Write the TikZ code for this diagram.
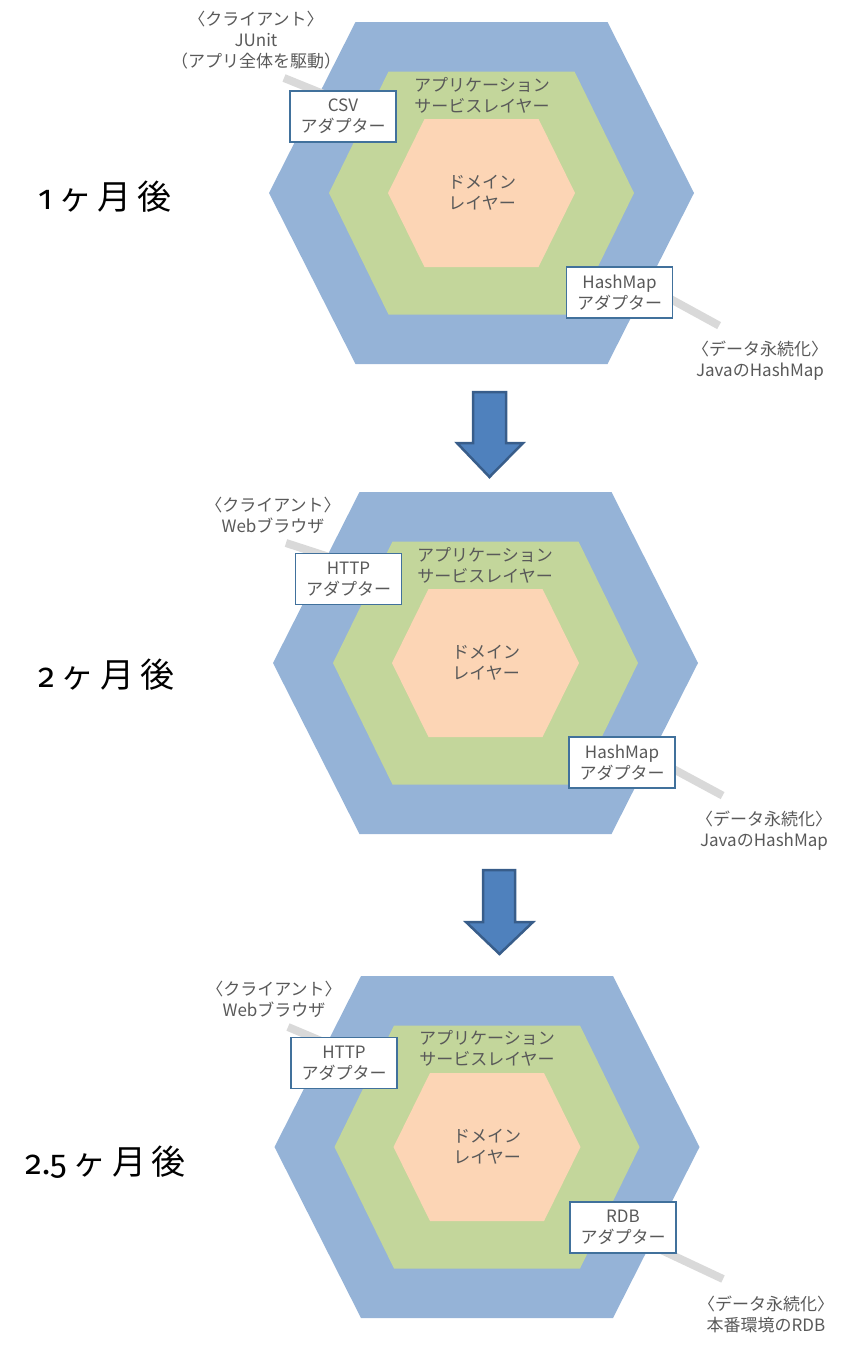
\documentclass[tikz,border=0pt]{standalone}
\usepackage{fontspec}
\setmainfont{Noto Sans CJK JP}
\newfontfamily\digitfont[Numbers=OldStyle]{Fira Sans}
\usetikzlibrary{calc}
\pgfdeclarelayer{back}
\pgfdeclarelayer{mid}
\pgfsetlayers{back,mid,main}
\definecolor{hexblue}{HTML}{95B3D7}
\definecolor{hexgreen}{HTML}{C3D69B}
\definecolor{hexorange}{HTML}{FCD5B5}
\definecolor{txtgray}{HTML}{595959}
\definecolor{lngray}{HTML}{D9D9D9}
\definecolor{boxblue}{HTML}{41719C}
\definecolor{arrowfill}{HTML}{4F81BD}
\definecolor{arrowdraw}{HTML}{385D8A}
\newcommand\myhex[6]{%
  \fill[#6] (#1-#3,#2) -- (#1-#4,#2-#5) -- (#1+#4,#2-#5) -- (#1+#3,#2)
    -- (#1+#4,#2+#5) -- (#1-#4,#2+#5) -- cycle;}
\newcommand\layerset[2]{%
  \myhex{#1}{#2}{212.5}{126}{171}{hexblue}%
  \myhex{#1}{#2}{152.5}{93}{121.5}{hexgreen}%
  \myhex{#1}{#2}{93.5}{57}{74}{hexorange}}
\tikzset{
  txt/.style={font=\fontsize{17}{21}\selectfont, text=txtgray, align=center, inner sep=0pt},
  adbox/.style={draw=boxblue, line width=1.2pt, fill=white, minimum width=106pt,
    minimum height=51pt, inner sep=0pt, font=\fontsize{17}{21}\selectfont,
    text=txtgray, align=center},
  conn/.style={draw=lngray, line width=8pt},
  blockarrow/.style={fill=arrowfill, draw=arrowdraw, line width=2.5pt, line join=miter},
  period/.style={font=\fontsize{34}{40}\selectfont, text=black, inner sep=0pt, anchor=west}
}
\begin{document}
\begin{tikzpicture}[x=1pt,y=-1pt]
\useasboundingbox (0,0) rectangle (850,1347);
\begin{pgfonlayer}{back}
  \layerset{481.5}{193}
  \layerset{485.5}{663}
  \layerset{487}{1147}
\end{pgfonlayer}

% ---------- stage 1 ----------
\node[txt] (cl1) at (256,40) {〈クライアント〉\\JUnit\\（アプリ全体を駆動）};
\node[txt] (app1) at (482,95) {アプリケーション\\サービスレイヤー};
\node[txt] (dom1) at (482,193) {ドメイン\\レイヤー};
\node[adbox] (csv1) at (343,116.5) {CSV\\アダプター};
\node[adbox] (hm1) at (619.5,292.5) {HashMap\\アダプター};
\node[txt] (db1) at (760,360.5) {〈データ永続化〉\\JavaのHashMap};
\node[period] (p1) at (38,197) {{\digitfont 1}\,ヶ\,月\,後};
\coordinate (c1a) at (284,78);
\coordinate (c1b) at ($(csv1.north west)+(40,6)$);
\coordinate (d1a) at ($(hm1.south east)+(46,7)$);
\coordinate (d1b) at ($(hm1.center)+(30,-5)$);

% ---------- stage 2 ----------
\node[txt] (cl2) at (273,515.5) {〈クライアント〉\\Webブラウザ};
\node[txt] (app2) at (485,565) {アプリケーション\\サービスレイヤー};
\node[txt] (dom2) at (486,662.5) {ドメイン\\レイヤー};
\node[adbox] (http2) at (348.5,579) {HTTP\\アダプター};
\node[adbox] (hm2) at (622,762.5) {HashMap\\アダプター};
\node[txt] (db2) at (764,830.5) {〈データ永続化〉\\JavaのHashMap};
\node[period] (p2) at (38,675) {{\digitfont 2}\,ヶ\,月\,後};
\coordinate (c2a) at (286,543);
\coordinate (c2b) at ($(http2.north west)+(40,6)$);
\coordinate (d2a) at ($(hm2.south east)+(47,7)$);
\coordinate (d2b) at ($(hm2.center)+(30,-5)$);

% ---------- stage 3 ----------
\node[txt] (cl3) at (274,999.5) {〈クライアント〉\\Webブラウザ};
\node[txt] (app3) at (487,1048.5) {アプリケーション\\サービスレイヤー};
\node[txt] (dom3) at (487,1146.5) {ドメイン\\レイヤー};
\node[adbox] (http3) at (344,1063) {HTTP\\アダプター};
\node[adbox] (rdb3) at (623,1227.5) {RDB\\アダプター};
\node[txt] (db3) at (766,1314) {〈データ永続化〉\\本番環境のRDB};
\node[period] (p3) at (25,1162) {{\digitfont 2.5}\,ヶ\,月\,後};
\coordinate (c3a) at (288,1027);
\coordinate (c3b) at ($(http3.north west)+(40,8)$);
\coordinate (d3a) at (723,1279);
\coordinate (d3b) at ($(rdb3.center)+(17,12.5)$);

\begin{pgfonlayer}{mid}
  \draw[conn] (c1a) -- (c1b);
  \draw[conn] (d1b) -- (d1a);
  \draw[conn] (c2a) -- (c2b);
  \draw[conn] (d2b) -- (d2a);
  \draw[conn] (c3a) -- (c3b);
  \draw[conn] (d3b) -- (d3a);
\end{pgfonlayer}

% ---------- arrows ----------
\draw[blockarrow] (473,392) -- (506,392) -- (506,443) -- (523,443) -- (489.5,477)
  -- (457,443) -- (473,443) -- cycle;
\draw[blockarrow] (483,870) -- (515,870) -- (515,922) -- (533,922) -- (499.5,954)
  -- (466,922) -- (483,922) -- cycle;
\end{tikzpicture}
\end{document}
